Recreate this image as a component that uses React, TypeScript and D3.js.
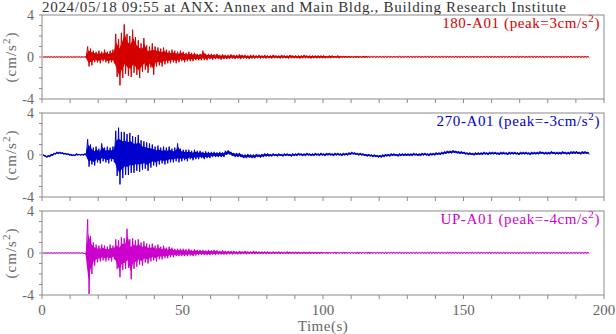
import React from "react";
import * as d3 from "d3";

// ---- data (1-second bins, t = 0..194 s; per-bin max / min in cm/s^2) ----
const title = "2024/05/18 09:55 at ANX: Annex and Main Bldg., Building Research Institute";
const channels = ["180-A01", "270-A01", "UP-A01"];
const peaks = [3, -3, -4];
const colors = ["#d40000", "#0000cc", "#cc00cc"];
const xTickLabels = [0, 50, 100, 150, 200];
const yTickLabels = [-4, 0, 4];

const redHi = [
  .03,.03,.03,.03,.03,.03,.03,.03,.03,.03,
  .03,.03,.03,.03,.03,.03,1.0,.8,.6,.5,
  .6,.5,.7,.5,.6,.7,2.2,1.7,2.3,3.1,
  2.2,2.0,2.6,1.9,1.6,1.3,1.8,1.1,1.0,1.3,
  1.0,.9,.8,.9,.7,.6,.7,.6,.5,.6,
  .5,.4,.5,.4,.4,.3,.3,.6,.3,.3,
  .3,.25,.3,.2,.25,.2,.2,.25,.2,.2,
  .25,.2,.2,.15,.2,.2,.15,.2,.15,.2,
  .15,.15,.2,.15,.15,.2,.15,.15,.2,.15,
  .15,.15,.15,.2,.15,.15,.15,.15,.15,.15,
  .15,.1,.15,.15,.1,.15,.1,.1,.1,.1,
  .08,.1,.1,.08,.1,.1,.07,.06,.07,.06,
  .07,.06,.07,.06,.06,.07,.06,.07,.06,.06,
  .06,.07,.06,.06,.07,.06,.06,.07,.06,.06,
  .07,.06,.06,.07,.06,.06,.06,.07,.06,.06,
  .06,.07,.06,.06,.06,.07,.06,.06,.07,.06,
  .06,.06,.07,.06,.06,.07,.06,.06,.06,.07,
  .06,.07,.06,.06,.07,.06,.06,.06,.07,.06,
  .06,.06,.07,.06,.06,.07,.06,.06,.06,.06,
  .06,.07,.06,.06,.07,
];
const redLo = [
  -.03,-.03,-.03,-.03,-.03,-.03,-.03,-.03,-.03,-.03,
  -.03,-.03,-.03,-.03,-.03,-.03,-.9,-.8,-.5,-.5,
  -.6,-.4,-.5,-.6,-.5,-.6,-1.9,-2.7,-2.0,-1.6,
  -1.8,-1.9,-1.5,-1.7,-2.0,-1.4,-1.2,-1.5,-1.0,-1.7,
  -.9,-.8,-.9,-.7,-.6,-.6,-.5,-.6,-.5,-.4,
  -.5,-.4,-.4,-.4,-.3,-.3,-.3,-.3,-.3,-.2,
  -.25,-.2,-.2,-.25,-.2,-.2,-.2,-.15,-.2,-.15,
  -.2,-.15,-.15,-.2,-.15,-.15,-.12,-.15,-.12,-.15,
  -.12,-.15,-.12,-.12,-.15,-.12,-.12,-.15,-.12,-.12,
  -.12,-.15,-.12,-.12,-.12,-.15,-.12,-.12,-.12,-.12,
  -.12,-.1,-.12,-.1,-.1,-.12,-.08,-.08,-.08,-.08,
  -.07,-.08,-.07,-.07,-.08,-.07,-.06,-.05,-.06,-.05,
  -.06,-.05,-.06,-.05,-.05,-.06,-.05,-.06,-.05,-.05,
  -.05,-.06,-.05,-.05,-.06,-.05,-.05,-.06,-.05,-.05,
  -.06,-.05,-.05,-.06,-.05,-.05,-.05,-.06,-.05,-.05,
  -.05,-.06,-.05,-.05,-.05,-.06,-.05,-.05,-.06,-.05,
  -.05,-.05,-.06,-.05,-.05,-.06,-.05,-.05,-.05,-.06,
  -.05,-.06,-.05,-.05,-.06,-.05,-.05,-.05,-.06,-.05,
  -.05,-.05,-.06,-.05,-.05,-.06,-.05,-.05,-.05,-.05,
  -.05,-.06,-.05,-.05,-.06,
];

const blueHi = [
  .1,-.05,0,.1,.2,.3,.3,.25,.2,.15,
  .1,.05,.15,.1,.1,.15,1.5,1.0,.7,.8,
  .6,1.1,.7,.8,.7,.8,2.3,2.6,2.2,2.2,
  2.0,2.1,1.8,1.7,1.9,1.4,1.3,1.2,1.1,1.0,
  .8,.9,.7,.8,.7,.8,.6,.7,1.1,.6,
  .5,.5,.5,.4,.5,.4,.4,.3,.35,.3,
  .3,.3,.25,.3,.25,.4,.45,.3,.2,.2,
  .2,.05,.05,.1,.05,.05,.1,.05,.1,.15,
  .15,.1,.15,.1,.15,.1,.15,.15,.1,.15,
  .15,.2,.15,.15,.2,.15,.15,.2,.15,.2,
  .15,.2,.2,.15,.2,.2,.15,.2,.2,.25,
  .3,.25,.2,.2,.15,.1,.1,.05,.05,0,
  0,.05,.1,.1,.15,.15,.1,.15,.15,.15,
  .15,.15,.2,.15,.15,.2,.2,.15,.2,.2,
  .25,.25,.3,.35,.4,.4,.45,.4,.35,.35,
  .3,.25,.25,.2,.25,.25,.25,.3,.25,.3,
  .3,.3,.25,.3,.3,.25,.3,.3,.3,.25,
  .3,.3,.3,.25,.3,.3,.3,.35,.3,.3,
  .3,.35,.3,.3,.3,.35,.3,.3,.35,.35,
  .35,.3,.35,.35,.3,
];
const blueLo = [
  -.1,-.25,-.2,-.1,.05,.1,.1,.05,0,-.05,
  -.1,-.1,-.05,-.05,-.05,-.05,-1.1,-.9,-1.0,-.7,
  -.8,-.6,-.7,-.8,-.6,-.7,-2.0,-2.8,-2.2,-1.9,
  -1.9,-1.7,-1.7,-1.5,-1.6,-1.4,-1.3,-1.5,-1.2,-1.0,
  -1.1,-.9,-.8,-.9,-.8,-.7,-.7,-.6,-.7,-.6,
  -.5,-.6,-.4,-.5,-.4,-.4,-.3,-.4,-.3,-.3,
  -.2,-.2,-.2,-.2,-.2,0,.05,-.1,-.2,-.2,
  -.2,-.3,-.3,-.25,-.3,-.3,-.2,-.25,-.2,-.15,
  -.15,-.15,-.1,-.15,-.1,-.15,-.1,-.1,-.15,-.1,
  -.1,-.05,-.1,-.1,-.05,-.1,-.1,-.05,-.1,-.05,
  -.1,-.05,-.05,-.1,-.05,-.05,-.1,-.05,-.05,0,
  .05,0,-.05,-.05,-.1,-.15,-.15,-.2,-.2,-.25,
  -.25,-.2,-.15,-.15,-.1,-.1,-.15,-.1,-.1,-.1,
  -.1,-.1,-.05,-.1,-.1,-.05,-.05,-.1,-.05,-.05,
  0,0,.05,.1,.15,.15,.2,.15,.1,.1,
  .05,0,0,-.05,0,0,0,.05,0,.05,
  .05,.05,0,.05,.05,0,.05,.05,.05,0,
  .05,.05,.05,0,.05,.05,.05,.1,.05,.05,
  .05,.1,.05,.05,.05,.1,.05,.05,.1,.1,
  .1,.05,.1,.1,.05,
];

const magHi = [
  .03,.03,.03,.03,.03,.03,.03,.03,.03,.03,
  .03,.03,.03,.03,.03,0,3.2,1.6,1.0,.8,
  .7,.8,.7,.6,.8,.7,1.3,1.2,1.5,1.4,
  2.3,1.3,1.4,1.2,1.3,1.0,1.1,.9,.8,.9,
  .7,.8,.6,.7,.5,.6,.5,.4,.4,.4,
  .4,.35,.4,.3,.35,.3,.3,.3,.25,.3,
  .25,.3,.25,.2,.25,.2,.2,.2,.2,.15,
  .2,.15,.2,.15,.15,.2,.15,.15,.15,.15,
  .15,.12,.15,.12,.15,.12,.12,.15,.12,.12,
  .12,.12,.1,.12,.1,.12,.1,.1,.1,.1,
  .08,.1,.08,.08,.1,.08,.08,.1,.08,.08,
  .08,.08,.1,.08,.08,.08,.1,.08,.08,.08,
  .07,.08,.07,.07,.08,.07,.07,.08,.07,.07,
  .07,.07,.08,.07,.07,.08,.07,.07,.07,.08,
  .07,.08,.07,.07,.07,.08,.07,.07,.08,.07,
  .07,.07,.08,.07,.07,.07,.08,.07,.07,.07,
  .06,.07,.06,.06,.07,.06,.06,.07,.06,.06,
  .06,.07,.06,.06,.06,.07,.06,.06,.07,.06,
  .06,.06,.07,.06,.06,.06,.07,.06,.06,.06,
  .06,.07,.06,.06,.06,
];
const magLo = [
  -.03,-.03,-.03,-.03,-.03,-.03,-.03,-.03,-.03,-.03,
  -.03,-.03,-.03,-.03,-.03,-.15,-3.9,-2.0,-1.2,-.9,
  -.8,-.7,-.8,-.7,-.8,-.6,-1.5,-2.3,-1.6,-1.5,
  -1.4,-2.5,-1.5,-1.3,-1.1,-1.2,-.9,-1.0,-.8,-.7,
  -.8,-.6,-.6,-.5,-.5,-.4,-.4,-.3,-.3,-.3,
  -.3,-.3,-.25,-.3,-.25,-.2,-.2,-.2,-.2,-.2,
  -.15,-.2,-.15,-.15,-.15,-.15,-.12,-.15,-.12,-.12,
  -.12,-.1,-.12,-.1,-.1,-.12,-.1,-.1,-.1,-.1,
  -.1,-.08,-.1,-.08,-.1,-.08,-.08,-.1,-.08,-.08,
  -.08,-.08,-.07,-.08,-.07,-.08,-.07,-.07,-.07,-.07,
  -.06,-.07,-.06,-.06,-.07,-.06,-.06,-.07,-.06,-.06,
  -.06,-.06,-.07,-.06,-.06,-.06,-.07,-.06,-.06,-.06,
  -.05,-.06,-.05,-.05,-.06,-.05,-.05,-.06,-.05,-.05,
  -.05,-.05,-.06,-.05,-.05,-.06,-.05,-.05,-.05,-.06,
  -.05,-.06,-.05,-.05,-.05,-.06,-.05,-.05,-.06,-.05,
  -.05,-.05,-.06,-.05,-.05,-.05,-.06,-.05,-.05,-.05,
  -.05,-.05,-.05,-.05,-.06,-.05,-.05,-.05,-.05,-.05,
  -.05,-.06,-.05,-.05,-.05,-.06,-.05,-.05,-.05,-.05,
  -.05,-.05,-.06,-.05,-.05,-.05,-.05,-.05,-.05,-.05,
  -.05,-.05,-.05,-.05,-.05,
];

const seriesHi = [redHi, blueHi, magHi];
const seriesLo = [redLo, blueLo, magLo];

// ---- layout ----
const W = 616, H = 334;
const PLOT_LEFT = 42, PLOT_RIGHT = 604;
const PANEL_TOPS = [15, 113, 211];
const PANEL_H = 84;
const FONT = "'Liberation Serif', 'DejaVu Serif', serif";
const AXIS_GRAY = "#8a8a8a";
const TEXT_GRAY = "#666";

export default function App() {
  const x = d3.scaleLinear().domain([0, 200]).range([PLOT_LEFT, PLOT_RIGHT]);
  const xMinor = d3.range(0, 201, 10);
  const yMinor = d3.range(-4, 5, 1);

  return (
    <svg width={W} height={H} style={{ position: "absolute", left: 0, top: 0, background: "#fff" }}
      fontFamily={FONT}>
      <text x={42} y={12} fontSize={15} fill="#333" textLength={524} lengthAdjust="spacing">{title}</text>
      {channels.map((ch, p) => {
        const top = PANEL_TOPS[p];
        const y = d3.scaleLinear().domain([-4, 4]).range([top + PANEL_H, top]);
        const hi = seriesHi[p], lo = seriesLo[p];
        const pts: [number, number][] = [];
        hi.forEach((h, i) => {
          pts.push([i + 0.25, h]);
          pts.push([i + 0.75, lo[i]]);
        });
        const line = d3.line<[number, number]>().x(d => x(d[0])).y(d => y(d[1]));
        const area = d3.area<number>()
          .x((_, i) => x(i + 0.5))
          .y0((_, i) => y(lo[i] * 0.8 + hi[i] * 0.2))
          .y1((d, i) => y(hi[i] * 0.8 + lo[i] * 0.2));
        return (
          <g key={ch}>
            <path d={area(hi) || ""} fill={colors[p]} stroke="none" />
            <path d={line(pts) || ""} fill="none" stroke={colors[p]} strokeWidth={1} />
            <rect x={PLOT_LEFT} y={top} width={PLOT_RIGHT - PLOT_LEFT} height={PANEL_H}
              fill="none" stroke={AXIS_GRAY} strokeWidth={1} />
            {xMinor.map(t => (
              <line key={"xt" + t} x1={x(t)} x2={x(t)} y1={top + PANEL_H} y2={top + PANEL_H + 4}
                stroke={AXIS_GRAY} strokeWidth={1} />
            ))}
            {yMinor.map(v => (
              <line key={"yt" + v} x1={PLOT_LEFT - 3} x2={PLOT_LEFT} y1={y(v)} y2={y(v)}
                stroke={AXIS_GRAY} strokeWidth={1} />
            ))}
            {yTickLabels.map(v => (
              <text key={"yl" + v} x={34} y={y(v) + 5} fontSize={14} textAnchor="end" fill={TEXT_GRAY}>{v}</text>
            ))}
            <text x={600} y={top + 13} fontSize={15} textAnchor="end" fill={colors[p]} letterSpacing={0.6}>
              {ch} (peak={peaks[p]}cm/s<tspan dy={-6} fontSize={11}>2</tspan><tspan dy={6}>)</tspan>
            </text>
            <text transform={`translate(16, ${top + PANEL_H / 2}) rotate(-90)`} fontSize={15}
              textAnchor="middle" fill={TEXT_GRAY} letterSpacing={1}>
              (cm/s<tspan dy={-6} fontSize={11}>2</tspan><tspan dy={6}>)</tspan>
            </text>
          </g>
        );
      })}
      {xTickLabels.map(t => (
        <text key={"xl" + t} x={x(t)} y={315} fontSize={15} textAnchor="middle" fill={TEXT_GRAY}>{t}</text>
      ))}
      <text x={x(100)} y={331} fontSize={15} textAnchor="middle" fill={TEXT_GRAY} letterSpacing={0.5}>Time(s)</text>
    </svg>
  );
}
